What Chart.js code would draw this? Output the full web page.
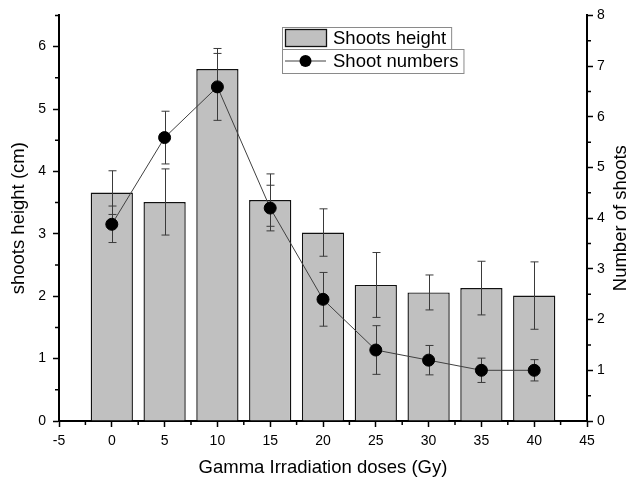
<!DOCTYPE html>
<html lang="en">
<head>
<meta charset="UTF-8">
<title>Shoots height and shoot numbers</title>
<style>
    body { margin: 0; background: #fff; }
    canvas { display: block; }
</style>
<script src="https://cdn.jsdelivr.net/npm/chart.js"></script>
</head>
<body>
<canvas id="chart" width="629" height="481"></canvas>
<script>
// doses (Gy)
const doses = [0, 5, 10, 15, 20, 25, 30, 35, 40];
// shoots height (cm), left axis
const shootsHeight = [3.66, 3.51, 5.64, 3.54, 3.02, 2.18, 2.06, 2.13, 2.01];
const shootsHeightErr = [0.35, 0.53, 0.33, 0.42, 0.38, 0.52, 0.28, 0.43, 0.54];
// number of shoots, right axis
const shootNumbers = [3.88, 5.59, 6.59, 4.2, 2.4, 1.4, 1.2, 1.0, 1.0];
const shootNumbersErr = [0.36, 0.52, 0.66, 0.45, 0.53, 0.48, 0.29, 0.24, 0.21];

const FONT = 'Arial, "Liberation Sans", sans-serif';
const rightTitle = 'Number of shoots';

function drawErrors(chart, values, errors, axisId) {
    const ctx = chart.ctx, xs = chart.scales.x, ys = chart.scales[axisId];
    ctx.save();
    ctx.strokeStyle = '#3a3a3a';
    ctx.lineWidth = 1;
    doses.forEach((d, i) => {
        const x = Math.round(xs.getPixelForValue(d)) + 0.5;
        const hi = ys.getPixelForValue(values[i] + errors[i]);
        const lo = ys.getPixelForValue(values[i] - errors[i]);
        ctx.beginPath();
        ctx.moveTo(x, hi); ctx.lineTo(x, lo);
        ctx.moveTo(x - 4, hi); ctx.lineTo(x + 4, hi);
        ctx.moveTo(x - 4, lo); ctx.lineTo(x + 4, lo);
        ctx.stroke();
    });
    ctx.restore();
}

// minor ticks half way between the labelled ones
function drawMinor(chart) {
    const ctx = chart.ctx, s = chart.scales;
    ctx.save();
    ctx.strokeStyle = '#000';
    ctx.lineWidth = 1.5;
    ctx.beginPath();
    for (let v = -2.5; v < 45; v += 5) {
        const x = s.x.getPixelForValue(v);
        ctx.moveTo(x, s.x.top); ctx.lineTo(x, s.x.top + 4);
    }
    for (let v = 0.5; v <= 6.5; v += 1) {
        const y = s.y.getPixelForValue(v);
        ctx.moveTo(s.y.right, y); ctx.lineTo(s.y.right - 4, y);
    }
    for (let v = 0.5; v < 8; v += 1) {
        const y = s.y1.getPixelForValue(v);
        ctx.moveTo(s.y1.left, y); ctx.lineTo(s.y1.left + 4, y);
    }
    ctx.stroke();
    ctx.restore();
}

// right axis title reads bottom to top
function drawRightTitle(chart) {
    const ctx = chart.ctx, s = chart.scales.y1;
    ctx.save();
    ctx.translate(621, (s.top + s.bottom) / 2);
    ctx.rotate(-Math.PI / 2);
    ctx.font = '18.5px ' + FONT;
    ctx.fillStyle = '#000';
    ctx.textAlign = 'center';
    ctx.textBaseline = 'middle';
    ctx.fillText(rightTitle, 0, 0);
    ctx.restore();
}

function drawLegend(chart) {
    const ctx = chart.ctx;
    const left = 282, textX = 333;
    ctx.save();
    ctx.font = '18.5px ' + FONT;
    ctx.textBaseline = 'middle';
    const rows = [
        { label: chart.data.datasets[0].label, top: 27, h: 22 },
        { label: chart.data.datasets[1].label, top: 49, h: 24 }
    ];
    rows.forEach((r, i) => {
        const w = textX + ctx.measureText(r.label).width + 5 - left;
        ctx.fillStyle = '#fff';
        ctx.fillRect(left, r.top, w, r.h);
        ctx.strokeStyle = '#8a8a8a';
        ctx.lineWidth = 1;
        ctx.strokeRect(left + 0.5, r.top + 0.5, w, r.h);
        const cy = r.top + r.h / 2;
        if (i === 0) {
            ctx.fillStyle = '#c0c0c0';
            ctx.fillRect(285, r.top + 2, 41, 17);
            ctx.strokeStyle = '#111';
            ctx.lineWidth = 1.3;
            ctx.strokeRect(285.5, r.top + 2.5, 41, 17);
        } else {
            ctx.strokeStyle = '#404040';
            ctx.beginPath();
            ctx.moveTo(285, cy); ctx.lineTo(326, cy);
            ctx.stroke();
            ctx.fillStyle = '#000';
            ctx.beginPath();
            ctx.arc(305.5, cy, 6, 0, Math.PI * 2);
            ctx.fill();
        }
        ctx.fillStyle = '#000';
        ctx.fillText(r.label, textX, cy + 1);
    });
    ctx.restore();
}

const extras = {
    id: 'extras',
    afterDatasetDraw(chart, args) {
        if (args.index === 0) drawErrors(chart, shootsHeight, shootsHeightErr, 'y');
    },
    beforeDatasetDraw(chart, args) {
        if (args.index === 1) drawErrors(chart, shootNumbers, shootNumbersErr, 'y1');
    },
    afterDraw(chart) {
        drawMinor(chart);
        drawRightTitle(chart);
        drawLegend(chart);
    }
};

const tickFont = { family: FONT, size: 14 };
const titleFont = { family: FONT, size: 18.5 };
const axisGrid = { drawOnChartArea: false, drawTicks: true, tickLength: 6, tickColor: '#000', tickWidth: 1.5 };
const axisBorder = { display: true, color: '#000', width: 2 };

new Chart(document.getElementById('chart'), {
    type: 'bar',
    data: {
        datasets: [
            {
                label: 'Shoots height',
                data: doses.map((d, i) => ({ x: d, y: shootsHeight[i] })),
                yAxisID: 'y',
                backgroundColor: '#c0c0c0',
                borderColor: '#111',
                borderWidth: 1.4,
                barPercentage: 0.8,
                categoryPercentage: 1,
                order: 2
            },
            {
                type: 'line',
                label: 'Shoot numbers',
                data: doses.map((d, i) => ({ x: d, y: shootNumbers[i] })),
                yAxisID: 'y1',
                borderColor: '#404040',
                borderWidth: 1,
                pointRadius: 6,
                pointBackgroundColor: '#000',
                pointBorderColor: '#000',
                tension: 0,
                order: 1
            }
        ]
    },
    options: {
        responsive: false,
        devicePixelRatio: 1,
        animation: false,
        layout: { padding: { top: 15, left: 0, right: 0, bottom: 0 } },
        plugins: { legend: { display: false }, tooltip: { enabled: false } },
        scales: {
            x: {
                type: 'linear',
                min: -5, max: 45,
                offset: false,
                grid: Object.assign({ offset: false }, axisGrid),
                border: axisBorder,
                ticks: { stepSize: 5, color: '#000', font: tickFont, padding: 6, maxRotation: 0 },
                title: { display: true, text: 'Gamma Irradiation doses (Gy)', color: '#000', font: titleFont, padding: { top: 0, bottom: 2 } },
                afterFit: s => { s.height = 60; }
            },
            y: {
                position: 'left',
                min: 0, max: 6.5,
                bounds: 'data',
                grid: axisGrid,
                border: axisBorder,
                ticks: { stepSize: 1, includeBounds: false, color: '#000', font: tickFont, padding: 7 },
                title: { display: true, text: 'shoots height (cm)', color: '#000', font: titleFont, padding: { top: 8, bottom: 0 } },
                afterFit: s => { s.width = 59; }
            },
            y1: {
                position: 'right',
                min: 0, max: 8,
                grid: axisGrid,
                border: axisBorder,
                ticks: { stepSize: 1, color: '#000', font: tickFont, padding: 4 },
                title: { display: false, text: rightTitle },
                afterFit: s => { s.width = 42; }
            }
        }
    },
    plugins: [extras]
});
</script>
</body>
</html>
